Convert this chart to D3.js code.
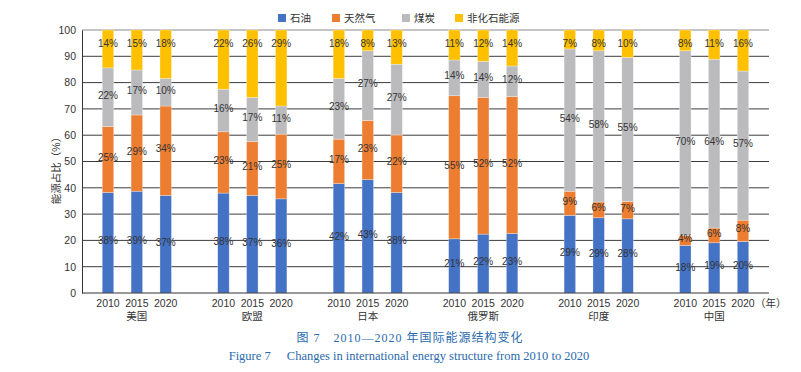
<!DOCTYPE html>
<html>
<head>
<meta charset="utf-8">
<script src="https://cdn.jsdelivr.net/npm/d3@7"></script>
<style>
    body { margin: 0; background: #fff; }
    #chart text { font-family: "Liberation Sans", Arial, "Noto Sans CJK SC", sans-serif; }
</style>
</head>
<body>
<div id="chart"></div>
<script>

// data (shares in %)
let countries = ["美国", "欧盟", "日本", "俄罗斯", "印度", "中国"];
let years = ["2010", "2015", "2020"];
let series_names = ["石油", "天然气", "煤炭", "非化石能源"];
let series_colors = ["#4472c4", "#ed7d31", "#bbbbbe", "#ffc000"];
let y_ticks = [0, 10, 20, 30, 40, 50, 60, 70, 80, 90, 100];

// bar segment heights, one entry per country, 3 years each
let oil_values = [[38.2, 38.7, 37.1], [38.0, 37.1, 35.8], [41.6, 43.1, 38.2], [20.6, 22.4, 22.6], [29.5, 28.6, 28.2], [18.1, 19.1, 19.6]];
let gas_values = [[25.1, 29.0, 34.0], [23.3, 20.5, 24.6], [16.9, 22.5, 21.9], [54.4, 52.0, 52.1], [9.2, 6.0, 6.6], [3.8, 5.6, 8.1]];
let coal_values = [[22.3, 17.1, 10.5], [16.2, 16.8, 10.7], [23.1, 26.5, 26.9], [13.6, 13.7, 11.6], [54.1, 57.5, 54.8], [70.2, 64.2, 56.7]];
let nonfossil_values = [[14.4, 15.2, 18.4], [22.5, 25.6, 28.9], [18.4, 7.9, 13.0], [11.4, 11.9, 13.7], [7.2, 7.9, 10.4], [7.9, 11.1, 15.6]];

// printed labels
let oil_labels = [[38, 39, 37], [38, 37, 36], [42, 43, 38], [21, 22, 23], [29, 29, 28], [18, 19, 20]];
let gas_labels = [[25, 29, 34], [23, 21, 25], [17, 23, 22], [55, 52, 52], [9, 6, 7], [4, 6, 8]];
let coal_labels = [[22, 17, 10], [16, 17, 11], [23, 27, 27], [14, 14, 12], [54, 58, 55], [70, 64, 57]];
let nonfossil_labels = [[14, 15, 18], [22, 26, 29], [18, 8, 13], [11, 12, 14], [7, 8, 10], [8, 11, 16]];

let caption_cn = "图 7　2010—2020 年国际能源结构变化";
let caption_en = "Figure 7　 Changes in international energy structure from 2010 to 2020";

let all_values = [oil_values, gas_values, coal_values, nonfossil_values];
let all_labels = [oil_labels, gas_labels, coal_labels, nonfossil_labels];

let chart_width = 801;
let chart_height = 372;

let plot_left = 82;
let plot_right = 769;
let plot_top = 30;
let plot_bottom = 293;

let svg = d3.select("#chart")
            .append("svg")
            .attr("width", chart_width)
            .attr("height", chart_height);

// x slots: 3 bars per country with an empty slot between countries
let slots = [];
countries.forEach(function(c, i) {
    if (i > 0) slots.push("gap" + i);
    years.forEach(function(y) { slots.push(c + "-" + y); });
});

let xScale = d3.scalePoint()
                .domain(slots)
                .range([plot_left, plot_right])
                .padding(0.9);

let yScale = d3.scaleLinear()
                .domain([0, 100])
                .range([plot_bottom, plot_top]);

let bar_width = 11.5;

// grid
svg.append("g")
    .selectAll("line")
    .data(y_ticks.filter(function(d) { return d > 0; }))
    .enter()
    .append("line")
    .attr("x1", plot_left)
    .attr("x2", plot_right)
    .attr("y1", function(d) { return yScale(d); })
    .attr("y2", function(d) { return yScale(d); })
    .attr("stroke", function(d) { return d == 100 ? "#8a8a8a" : "#3c3c3c"; })
    .attr("stroke-width", 1);

// stacked table
let rows = [];
countries.forEach(function(c, ci) {
    years.forEach(function(y, yi) {
        let base = 0;
        series_names.forEach(function(s, si) {
            let v = all_values[si][ci][yi];
            rows.push({ slot: c + "-" + y, series: si, y0: base, y1: base + v, label: all_labels[si][ci][yi] });
            base += v;
        });
    });
});

svg.append("g")
    .selectAll("rect")
    .data(rows)
    .enter()
    .append("rect")
    .attr("x", function(d) { return xScale(d.slot) - bar_width / 2; })
    .attr("y", function(d) { return yScale(d.y1); })
    .attr("width", bar_width)
    .attr("height", function(d) { return yScale(d.y0) - yScale(d.y1); })
    .attr("fill", function(d) { return series_colors[d.series]; })
    .attr("stroke", "#ffffff")
    .attr("stroke-opacity", 0.5)
    .attr("stroke-width", 0.6);

// value labels
svg.append("g")
    .selectAll("text")
    .data(rows)
    .enter()
    .append("text")
    .attr("x", function(d) { return xScale(d.slot); })
    .attr("y", function(d) {
        // top segment labels sit just under the top of the bar
        if (d.series == 3) return yScale(100) + 13;
        return yScale((d.y0 + d.y1) / 2) - 2;
    })
    .attr("dy", "0.35em")
    .attr("text-anchor", "middle")
    .attr("font-size", "10px")
    .attr("fill", "#333")
    .text(function(d) { return d.label + "%"; });

// axes
let y_axis = svg.append("g")
                .attr("transform", "translate(" + plot_left + ",0)")
                .call(d3.axisLeft(yScale).tickValues(y_ticks).tickSize(0).tickPadding(6));
y_axis.select(".domain").attr("stroke", "#333");
y_axis.selectAll("text").attr("font-size", "10.5px").attr("fill", "#333");

svg.append("line")
    .attr("x1", plot_left)
    .attr("x2", plot_right)
    .attr("y1", plot_bottom)
    .attr("y2", plot_bottom)
    .attr("stroke", "#333");

let year_slots = slots.filter(function(s) { return s.indexOf("gap") != 0; });
svg.append("g")
    .selectAll("text")
    .data(year_slots)
    .enter()
    .append("text")
    .attr("x", function(d) { return xScale(d); })
    .attr("y", 307)
    .attr("text-anchor", "middle")
    .attr("font-size", "10.5px")
    .attr("fill", "#333")
    .text(function(d) { return d.split("-")[1]; });

svg.append("g")
    .selectAll("text")
    .data(countries)
    .enter()
    .append("text")
    .attr("x", function(d) { return xScale(d + "-" + years[1]); })
    .attr("y", 320)
    .attr("text-anchor", "middle")
    .attr("font-size", "10.5px")
    .attr("fill", "#333")
    .text(function(d) { return d; });

svg.append("text")
    .attr("x", 755)
    .attr("y", 307)
    .attr("font-size", "10.5px")
    .attr("fill", "#333")
    .text("（年）");

svg.append("text")
    .attr("transform", "translate(56,168) rotate(-90)")
    .attr("text-anchor", "middle")
    .attr("dy", "0.35em")
    .attr("font-size", "10.5px")
    .attr("fill", "#333")
    .text("能源占比（%）");

// legend
let legend_x = [278, 332, 402, 455];
let legend = svg.append("g")
                .selectAll("g")
                .data(series_names)
                .enter()
                .append("g")
                .attr("transform", function(d, i) { return "translate(" + legend_x[i] + ",18)"; });
legend.append("rect")
    .attr("x", 0)
    .attr("y", -4)
    .attr("width", 8)
    .attr("height", 8)
    .attr("fill", function(d, i) { return series_colors[i]; });
legend.append("text")
    .attr("x", 12)
    .attr("dy", "0.35em")
    .attr("font-size", "10.5px")
    .attr("fill", "#333")
    .text(function(d) { return d; });

// captions
svg.append("text")
    .attr("x", 410)
    .attr("y", 342)
    .attr("text-anchor", "middle")
    .attr("font-size", "12px")
    .attr("letter-spacing", "1px")
    .style("font-family", "'Liberation Serif', 'Noto Sans CJK SC', serif")
    .attr("fill", "#2a6aad")
    .text(caption_cn);

svg.append("text")
    .attr("x", 409)
    .attr("y", 360)
    .attr("text-anchor", "middle")
    .attr("font-size", "12.5px")
    .style("font-family", "'Liberation Serif', 'Times New Roman', serif")
    .attr("fill", "#2a6aad")
    .text(caption_en);

</script>
</body>
</html>
